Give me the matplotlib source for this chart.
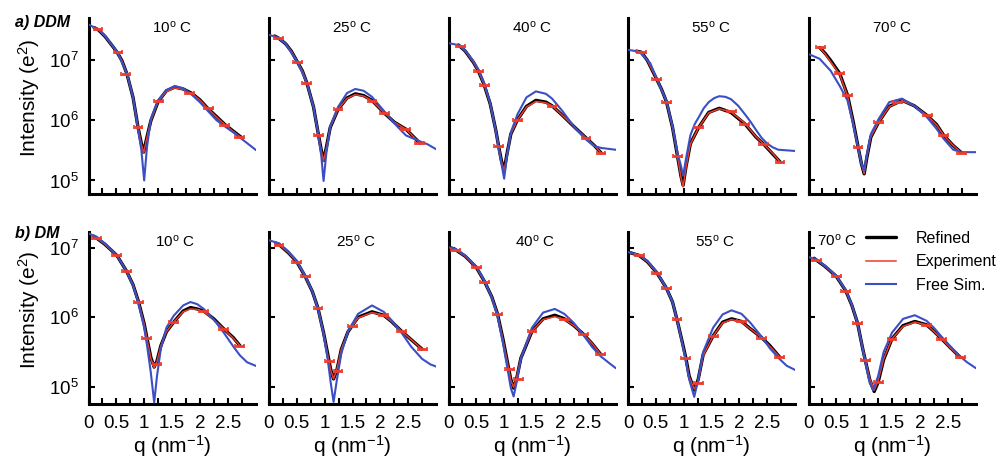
import matplotlib
matplotlib.use('Agg')
import matplotlib.pyplot as plt
from matplotlib.ticker import FixedLocator, NullLocator, FuncFormatter

plt.rcParams['font.family'] = ['Liberation Sans', 'DejaVu Sans']
plt.rcParams['mathtext.fontset'] = 'custom'
plt.rcParams['mathtext.rm'] = 'Liberation Sans'
plt.rcParams['mathtext.it'] = 'Liberation Sans:italic'
plt.rcParams['mathtext.bf'] = 'Liberation Sans:bold'

# ---------------- DATA (intensity in e^2, q in nm^-1) ----------------
temperatures = ["10", "25", "40", "55", "70"]
row_labels = ["a) DDM", "b) DM"]
legend_labels = ["Refined", "Experiment", "Free Sim."]

# ---- a) DDM ----
ddm10_q_fit = [0.1, 0.18, 0.3, 0.45, 0.52, 0.6, 0.69, 0.8, 0.89, 0.95, 0.99, 1.05, 1.12, 1.25, 1.4, 1.55, 1.7, 1.85, 2.0, 2.15, 2.3, 2.45, 2.6, 2.74]
ddm10_refined = [3.47e7, 3.16e7, 2.45e7, 1.62e7, 1.32e7, 9.8e6, 5.9e6, 2.4e6, 7.6e5, 4.1e5, 2.95e5, 5.25e5, 9.8e5, 2.04e6, 3.09e6, 3.55e6, 3.31e6, 2.82e6, 2.19e6, 1.55e6, 1.15e6, 8.5e5, 6.6e5, 5.25e5]
ddm10_expt = [3.47e7, 3.16e7, 2.45e7, 1.62e7, 1.32e7, 9.8e6, 5.9e6, 2.4e6, 7.6e5, 4.0e5, 2.85e5, 5.2e5, 9.8e5, 2.04e6, 3.0e6, 3.45e6, 3.25e6, 2.8e6, 2.17e6, 1.55e6, 1.13e6, 8.5e5, 6.5e5, 5.2e5]
ddm10_q_sim = [0.0, 0.18, 0.3, 0.52, 0.69, 0.8, 0.89, 0.95, 1.0, 1.05, 1.12, 1.25, 1.4, 1.55, 1.7, 1.85, 2.0, 2.15, 2.3, 2.45, 2.6, 2.74, 3.0]
ddm10_sim = [3.89e7, 3.24e7, 2.51e7, 1.35e7, 6.0e6, 2.4e6, 7.1e5, 3.16e5, 1.0e5, 3.55e5, 1.05e6, 2.14e6, 3.16e6, 3.72e6, 3.39e6, 2.69e6, 2.0e6, 1.41e6, 1.0e6, 7.9e5, 6.3e5, 5.0e5, 3.24e5]
ddm10_q_err = [0.17, 0.53, 0.67, 0.89, 1.25, 1.82, 2.15, 2.45, 2.72]
ddm10_err = [3.24e7, 1.38e7, 5.9e6, 7.8e5, 2.09e6, 2.88e6, 1.62e6, 8.5e5, 5.25e5]

ddm25_q_fit = [0.1, 0.17, 0.3, 0.4, 0.51, 0.6, 0.68, 0.8, 0.89, 0.94, 0.98, 1.03, 1.1, 1.24, 1.4, 1.55, 1.7, 1.85, 2.07, 2.25, 2.46, 2.71]
ddm25_refined = [2.51e7, 2.32e7, 1.86e7, 1.41e7, 9.3e6, 6.6e6, 4.17e6, 1.66e6, 5.6e5, 3.16e5, 2.14e5, 3.55e5, 7.6e5, 1.51e6, 2.34e6, 2.75e6, 2.57e6, 2.14e6, 1.32e6, 9.3e5, 7.1e5, 4.17e5]
ddm25_expt = [2.51e7, 2.32e7, 1.86e7, 1.41e7, 9.3e6, 6.6e6, 4.17e6, 1.66e6, 5.6e5, 3.1e5, 2.1e5, 3.5e5, 7.6e5, 1.51e6, 2.3e6, 2.66e6, 2.52e6, 2.12e6, 1.32e6, 9.3e5, 7.1e5, 4.17e5]
ddm25_q_sim = [0.0, 0.17, 0.3, 0.51, 0.68, 0.8, 0.89, 0.94, 0.98, 1.03, 1.1, 1.24, 1.4, 1.55, 1.7, 1.85, 2.07, 2.25, 2.46, 2.71, 2.85, 3.0]
ddm25_sim = [2.63e7, 2.34e7, 1.86e7, 9.3e6, 4.17e6, 1.66e6, 5.5e5, 2.51e5, 9.8e4, 2.82e5, 7.9e5, 1.66e6, 2.82e6, 3.31e6, 3.09e6, 2.45e6, 1.41e6, 8.9e5, 5.6e5, 4.47e5, 3.98e5, 3.31e5]
ddm25_q_err = [0.17, 0.51, 0.68, 0.89, 1.24, 1.85, 2.07, 2.46, 2.71]
ddm25_err = [2.32e7, 9.3e6, 4.17e6, 5.6e5, 1.51e6, 2.12e6, 1.32e6, 7.1e5, 4.17e5]

ddm40_q_fit = [0.18, 0.3, 0.45, 0.54, 0.64, 0.75, 0.85, 0.9, 0.95, 1.0, 1.05, 1.12, 1.24, 1.4, 1.57, 1.75, 1.86, 2.05, 2.25, 2.47, 2.62, 2.74]
ddm40_refined = [1.78e7, 1.41e7, 9.1e6, 6.5e6, 3.89e6, 1.86e6, 6.8e5, 3.72e5, 2.14e5, 1.48e5, 2.75e5, 5.9e5, 1.02e6, 1.7e6, 2.14e6, 2.0e6, 1.74e6, 1.2e6, 7.9e5, 5.1e5, 3.8e5, 2.88e5]
ddm40_expt = [1.78e7, 1.41e7, 9.1e6, 6.5e6, 3.89e6, 1.86e6, 6.8e5, 3.72e5, 2.1e5, 1.45e5, 2.7e5, 5.9e5, 1.02e6, 1.66e6, 2.06e6, 1.95e6, 1.74e6, 1.2e6, 7.9e5, 5.1e5, 3.8e5, 2.88e5]
ddm40_q_sim = [0.0, 0.18, 0.3, 0.45, 0.54, 0.64, 0.75, 0.85, 0.9, 0.95, 1.0, 1.05, 1.12, 1.24, 1.4, 1.57, 1.75, 1.86, 2.05, 2.25, 2.47, 2.62, 2.74, 3.0]
ddm40_sim = [1.91e7, 1.78e7, 1.45e7, 9.5e6, 6.9e6, 4.17e6, 1.91e6, 6.6e5, 3.55e5, 1.91e5, 1.07e5, 2.51e5, 6.3e5, 1.26e6, 2.4e6, 3.02e6, 2.75e6, 2.29e6, 1.41e6, 7.9e5, 4.79e5, 3.72e5, 3.47e5, 3.24e5]
ddm40_q_err = [0.21, 0.54, 0.64, 0.90, 1.24, 1.86, 2.47, 2.74]
ddm40_err = [1.74e7, 6.5e6, 3.89e6, 3.72e5, 1.02e6, 1.74e6, 5.1e5, 2.88e5]

ddm55_q_fit = [0.15, 0.24, 0.35, 0.51, 0.6, 0.69, 0.8, 0.89, 0.95, 0.99, 1.04, 1.12, 1.27, 1.45, 1.64, 1.85, 2.1, 2.3, 2.43, 2.6, 2.73]
ddm55_refined = [1.41e7, 1.35e7, 9.8e6, 4.9e6, 3.31e6, 2.04e6, 7.6e5, 2.51e5, 1.2e5, 8.3e4, 1.66e5, 4.07e5, 7.6e5, 1.35e6, 1.58e6, 1.35e6, 8.7e5, 5.25e5, 4.07e5, 2.75e5, 2.04e5]
ddm55_expt = [1.41e7, 1.35e7, 9.8e6, 4.9e6, 3.31e6, 2.04e6, 7.6e5, 2.51e5, 1.15e5, 7.8e4, 1.6e5, 4.0e5, 7.6e5, 1.33e6, 1.55e6, 1.38e6, 8.9e5, 5.3e5, 4.07e5, 2.8e5, 2.04e5]
ddm55_q_sim = [0.0, 0.2, 0.4, 0.51, 0.69, 0.8, 0.89, 0.95, 0.99, 1.04, 1.12, 1.2, 1.27, 1.36, 1.45, 1.55, 1.64, 1.75, 1.85, 1.98, 2.1, 2.2, 2.3, 2.4, 2.5, 2.6, 2.7, 3.0]
ddm55_sim = [1.48e7, 1.38e7, 8.9e6, 5.0e6, 2.09e6, 7.9e5, 2.82e5, 1.78e5, 1.2e5, 2.24e5, 5.6e5, 8.7e5, 1.12e6, 1.58e6, 2.0e6, 2.34e6, 2.51e6, 2.45e6, 2.24e6, 1.74e6, 1.26e6, 9.5e5, 6.9e5, 5.1e5, 4.1e5, 3.55e5, 3.24e5, 3.09e5]
ddm55_q_err = [0.24, 0.51, 0.69, 0.89, 1.27, 1.86, 2.10, 2.43, 2.73]
ddm55_err = [1.35e7, 4.9e6, 2.04e6, 2.51e5, 7.6e5, 1.45e6, 8.7e5, 4.07e5, 2.04e5]

ddm70_q_fit = [0.2, 0.3, 0.4, 0.56, 0.7, 0.8, 0.89, 0.95, 1.0, 1.05, 1.12, 1.26, 1.45, 1.68, 1.9, 2.13, 2.3, 2.43, 2.6, 2.75]
ddm70_refined = [1.62e7, 1.29e7, 9.8e6, 6.0e6, 2.63e6, 9.8e5, 3.63e5, 1.91e5, 1.29e5, 2.45e5, 5.25e5, 9.3e5, 1.7e6, 2.14e6, 1.74e6, 1.2e6, 8.5e5, 5.6e5, 3.8e5, 2.88e5]
ddm70_expt = [1.62e7, 1.26e7, 9.3e6, 5.8e6, 2.55e6, 9.5e5, 3.55e5, 1.9e5, 1.3e5, 2.5e5, 5.3e5, 9.3e5, 1.68e6, 2.1e6, 1.74e6, 1.2e6, 8.4e5, 5.6e5, 3.8e5, 2.88e5]
ddm70_q_sim = [0.0, 0.2, 0.4, 0.56, 0.7, 0.8, 0.89, 0.95, 1.0, 1.05, 1.12, 1.26, 1.45, 1.68, 1.9, 2.13, 2.3, 2.43, 2.6, 2.75, 3.0]
ddm70_sim = [1.26e7, 1.05e7, 6.6e6, 3.72e6, 2.14e6, 8.7e5, 3.55e5, 1.91e5, 1.48e5, 2.75e5, 5.9e5, 1.05e6, 2.0e6, 2.29e6, 1.74e6, 1.12e6, 7.2e5, 4.9e5, 3.24e5, 2.95e5, 2.95e5]
ddm70_q_err = [0.22, 0.56, 0.70, 0.89, 1.26, 1.60, 2.13, 2.43, 2.75]
ddm70_err = [1.62e7, 6.0e6, 2.63e6, 3.63e5, 9.3e5, 2.0e6, 1.2e6, 5.6e5, 2.88e5]

# ---- b) DM ----
dm10_q_fit = [0.09, 0.15, 0.3, 0.51, 0.68, 0.8, 0.9, 1.0, 1.05, 1.12, 1.18, 1.23, 1.3, 1.4, 1.53, 1.7, 1.83, 1.95, 2.07, 2.25, 2.43, 2.6, 2.72]
dm10_refined = [1.48e7, 1.38e7, 1.12e7, 7.8e6, 4.68e6, 2.95e6, 1.66e6, 8.1e5, 5.0e5, 2.63e5, 1.91e5, 2.34e5, 3.89e5, 6.2e5, 8.5e5, 1.23e6, 1.38e6, 1.32e6, 1.23e6, 9.5e5, 6.8e5, 5.1e5, 3.89e5]
dm10_expt = [1.48e7, 1.38e7, 1.12e7, 7.8e6, 4.68e6, 2.95e6, 1.66e6, 8.0e5, 4.9e5, 2.55e5, 1.85e5, 2.3e5, 3.89e5, 6.2e5, 8.5e5, 1.2e6, 1.32e6, 1.3e6, 1.2e6, 9.3e5, 6.8e5, 5.0e5, 3.89e5]
dm10_q_sim = [0.0, 0.15, 0.3, 0.51, 0.68, 0.8, 0.9, 1.0, 1.05, 1.12, 1.18, 1.23, 1.3, 1.4, 1.53, 1.7, 1.83, 1.95, 2.07, 2.25, 2.43, 2.6, 2.72, 2.85, 3.0]
dm10_sim = [1.62e7, 1.45e7, 1.15e7, 7.8e6, 4.68e6, 2.88e6, 1.58e6, 7.1e5, 4.0e5, 1.58e5, 5.9e4, 1.41e5, 3.55e5, 7.1e5, 1.05e6, 1.48e6, 1.66e6, 1.55e6, 1.32e6, 9.3e5, 6.0e5, 3.8e5, 2.82e5, 2.24e5, 2.0e5]
dm10_q_err = [0.15, 0.51, 0.68, 0.90, 1.05, 1.23, 1.53, 2.07, 2.43, 2.72]
dm10_err = [1.38e7, 7.8e6, 4.68e6, 1.66e6, 5.0e5, 2.14e5, 8.5e5, 1.23e6, 6.8e5, 3.89e5]

dm25_q_fit = [0.12, 0.18, 0.35, 0.5, 0.65, 0.78, 0.88, 0.98, 1.05, 1.11, 1.16, 1.22, 1.3, 1.42, 1.6, 1.85, 2.06, 2.2, 2.38, 2.55, 2.75]
dm25_refined = [1.17e7, 1.12e7, 8.5e6, 6.3e6, 3.89e6, 2.34e6, 1.35e6, 6.0e5, 3.09e5, 1.74e5, 1.29e5, 1.74e5, 3.47e5, 6.2e5, 1.0e6, 1.2e6, 1.07e6, 8.7e5, 6.3e5, 4.79e5, 3.47e5]
dm25_expt = [1.17e7, 1.12e7, 8.5e6, 6.3e6, 3.89e6, 2.34e6, 1.35e6, 6.0e5, 3.0e5, 1.7e5, 1.3e5, 1.78e5, 3.47e5, 6.2e5, 9.8e5, 1.17e6, 1.07e6, 8.7e5, 6.3e5, 4.79e5, 3.47e5]
dm25_q_sim = [0.0, 0.18, 0.35, 0.5, 0.65, 0.78, 0.88, 0.98, 1.05, 1.11, 1.16, 1.22, 1.3, 1.42, 1.6, 1.85, 2.06, 2.2, 2.38, 2.55, 2.75, 2.9, 3.0]
dm25_sim = [1.29e7, 1.17e7, 8.9e6, 6.5e6, 3.98e6, 2.34e6, 1.32e6, 5.75e5, 2.63e5, 1.12e5, 6.0e4, 1.26e5, 3.02e5, 6.3e5, 1.12e6, 1.48e6, 1.2e6, 9.1e5, 6.0e5, 3.8e5, 2.51e5, 2.09e5, 1.95e5]
dm25_q_err = [0.18, 0.50, 0.65, 0.88, 1.09, 1.24, 1.50, 2.06, 2.38, 2.75]
dm25_err = [1.12e7, 6.3e6, 3.89e6, 1.35e6, 2.34e5, 1.7e5, 7.6e5, 1.07e6, 6.3e5, 3.47e5]

dm40_q_fit = [0.05, 0.12, 0.3, 0.5, 0.65, 0.78, 0.88, 0.98, 1.05, 1.12, 1.17, 1.22, 1.3, 1.5, 1.7, 1.91, 2.08, 2.25, 2.42, 2.58, 2.73]
dm40_refined = [1.0e7, 9.5e6, 7.6e6, 5.25e6, 3.24e6, 1.95e6, 1.12e6, 4.79e5, 2.45e5, 1.26e5, 9.5e4, 1.26e5, 2.57e5, 6.3e5, 9.5e5, 1.07e6, 9.5e5, 7.6e5, 5.75e5, 4.17e5, 2.95e5]
dm40_expt = [1.0e7, 9.5e6, 7.6e6, 5.25e6, 3.24e6, 1.95e6, 1.12e6, 4.7e5, 2.4e5, 1.22e5, 9.8e4, 1.32e5, 2.6e5, 6.3e5, 9.3e5, 1.02e6, 9.3e5, 7.6e5, 5.75e5, 4.2e5, 2.95e5]
dm40_q_sim = [0.0, 0.12, 0.3, 0.5, 0.65, 0.78, 0.88, 0.98, 1.05, 1.12, 1.17, 1.22, 1.3, 1.5, 1.7, 1.91, 2.08, 2.25, 2.42, 2.58, 2.73, 2.9, 3.0]
dm40_sim = [1.02e7, 9.8e6, 7.8e6, 5.4e6, 3.31e6, 1.91e6, 1.05e6, 4.17e5, 2.0e5, 9.5e4, 7.2e4, 1.12e5, 2.51e5, 7.1e5, 1.17e6, 1.32e6, 1.12e6, 8.3e5, 5.6e5, 3.72e5, 2.75e5, 2.14e5, 1.86e5]
dm40_q_err = [0.12, 0.50, 0.65, 0.88, 1.09, 1.25, 1.50, 2.08, 2.42, 2.73]
dm40_err = [9.5e6, 5.25e6, 3.24e6, 1.12e6, 1.78e5, 1.29e5, 6.3e5, 9.5e5, 5.75e5, 2.95e5]

dm55_q_fit = [0.05, 0.2, 0.35, 0.52, 0.69, 0.8, 0.88, 0.97, 1.04, 1.1, 1.19, 1.26, 1.35, 1.53, 1.7, 1.86, 2.04, 2.2, 2.4, 2.55, 2.72]
dm55_refined = [8.5e6, 7.8e6, 6.3e6, 4.37e6, 2.63e6, 1.66e6, 9.3e5, 4.57e5, 2.57e5, 1.41e5, 8.9e4, 1.26e5, 2.88e5, 5.4e5, 8.5e5, 9.5e5, 8.7e5, 6.8e5, 5.1e5, 3.89e5, 2.69e5]
dm55_expt = [8.5e6, 7.8e6, 6.3e6, 4.37e6, 2.63e6, 1.66e6, 9.3e5, 4.5e5, 2.5e5, 1.38e5, 9.2e4, 1.2e5, 2.8e5, 5.4e5, 8.3e5, 9.3e5, 8.5e5, 6.8e5, 5.1e5, 3.8e5, 2.69e5]
dm55_q_sim = [0.0, 0.2, 0.35, 0.52, 0.69, 0.8, 0.88, 0.97, 1.04, 1.1, 1.19, 1.26, 1.35, 1.53, 1.7, 1.86, 2.04, 2.2, 2.4, 2.55, 2.72, 2.85, 3.0]
dm55_sim = [8.7e6, 7.9e6, 6.5e6, 4.47e6, 2.63e6, 1.66e6, 9.3e5, 4.37e5, 2.34e5, 1.26e5, 7.1e4, 1.26e5, 3.16e5, 7.1e5, 1.1e6, 1.26e6, 1.12e6, 8.3e5, 5.25e5, 3.55e5, 2.51e5, 2.0e5, 1.74e5]
dm55_q_err = [0.20, 0.52, 0.69, 0.88, 1.04, 1.26, 1.53, 2.04, 2.40, 2.72]
dm55_err = [7.8e6, 4.37e6, 2.63e6, 9.3e5, 2.57e5, 1.12e5, 5.4e5, 8.7e5, 5.1e5, 2.69e5]

dm70_q_fit = [0.1, 0.15, 0.3, 0.5, 0.67, 0.78, 0.88, 0.97, 1.02, 1.1, 1.18, 1.25, 1.35, 1.5, 1.7, 1.91, 2.12, 2.25, 2.39, 2.55, 2.73]
dm70_refined = [7.1e6, 6.6e6, 5.4e6, 3.89e6, 2.4e6, 1.48e6, 8.3e5, 3.63e5, 2.4e5, 1.26e5, 8.5e4, 1.15e5, 2.45e5, 4.9e5, 7.6e5, 8.7e5, 7.8e5, 6.3e5, 4.9e5, 3.63e5, 2.63e5]
dm70_expt = [7.1e6, 6.6e6, 5.4e6, 3.89e6, 2.4e6, 1.48e6, 8.3e5, 3.7e5, 2.45e5, 1.3e5, 8.9e4, 1.2e5, 2.5e5, 4.9e5, 7.4e5, 8.5e5, 7.8e5, 6.3e5, 4.9e5, 3.6e5, 2.63e5]
dm70_q_sim = [0.0, 0.15, 0.3, 0.5, 0.67, 0.78, 0.88, 0.97, 1.02, 1.1, 1.16, 1.25, 1.35, 1.5, 1.7, 1.91, 2.12, 2.25, 2.39, 2.55, 2.73, 2.85, 3.0]
dm70_sim = [7.4e6, 6.8e6, 5.5e6, 3.98e6, 2.45e6, 1.51e6, 8.3e5, 3.55e5, 2.24e5, 1.12e5, 8.9e4, 1.41e5, 3.16e5, 6.0e5, 9.5e5, 1.07e6, 8.9e5, 7.1e5, 5.25e5, 3.8e5, 2.69e5, 2.24e5, 1.86e5]
dm70_q_err = [0.15, 0.50, 0.67, 0.88, 1.02, 1.25, 1.50, 2.12, 2.39, 2.73]
dm70_err = [6.6e6, 3.89e6, 2.4e6, 8.3e5, 2.4e5, 1.15e5, 4.9e5, 7.8e5, 4.9e5, 2.63e5]

ddm_panels = [
    (ddm10_q_fit, ddm10_refined, ddm10_expt, ddm10_q_sim, ddm10_sim, ddm10_q_err, ddm10_err),
    (ddm25_q_fit, ddm25_refined, ddm25_expt, ddm25_q_sim, ddm25_sim, ddm25_q_err, ddm25_err),
    (ddm40_q_fit, ddm40_refined, ddm40_expt, ddm40_q_sim, ddm40_sim, ddm40_q_err, ddm40_err),
    (ddm55_q_fit, ddm55_refined, ddm55_expt, ddm55_q_sim, ddm55_sim, ddm55_q_err, ddm55_err),
    (ddm70_q_fit, ddm70_refined, ddm70_expt, ddm70_q_sim, ddm70_sim, ddm70_q_err, ddm70_err),
]
dm_panels = [
    (dm10_q_fit, dm10_refined, dm10_expt, dm10_q_sim, dm10_sim, dm10_q_err, dm10_err),
    (dm25_q_fit, dm25_refined, dm25_expt, dm25_q_sim, dm25_sim, dm25_q_err, dm25_err),
    (dm40_q_fit, dm40_refined, dm40_expt, dm40_q_sim, dm40_sim, dm40_q_err, dm40_err),
    (dm55_q_fit, dm55_refined, dm55_expt, dm55_q_sim, dm55_sim, dm55_q_err, dm55_err),
    (dm70_q_fit, dm70_refined, dm70_expt, dm70_q_sim, dm70_sim, dm70_q_err, dm70_err),
]

# ---------------- STYLE / LAYOUT ----------------
W, H = 998, 466
BLACK = '#000000'
RED = '#ee3b2b'
BLUE = '#3b4fc4'
col_left_px = [88.5, 269, 448.5, 628, 808.5]
ax_w_px = 167
rows = [
    dict(top=18, bottom=193.5, ylim=(6.07e4, 5.0e7), panels=ddm_panels, label_y=27, ylab_y=98),
    dict(top=232, bottom=403.5, ylim=(5.7e4, 1.7e7), panels=dm_panels, label_y=238, ylab_y=310),
]

fig = plt.figure(figsize=(W / 100, H / 100), dpi=100)
xfmt = FuncFormatter(lambda v, p: f'{v:g}')

for r, row in enumerate(rows):
    for c in range(5):
        q_fit, refined, expt, q_sim, sim, q_err, err = row['panels'][c]
        ax = fig.add_axes([col_left_px[c] / W, 1 - row['bottom'] / H,
                           ax_w_px / W, (row['bottom'] - row['top']) / H])
        h1, = ax.plot(q_fit, refined, color=BLACK, lw=2.4, zorder=2, solid_capstyle='round')
        h2, = ax.plot(q_fit, expt, color=RED, lw=1.1, zorder=3)
        ax.errorbar(q_err, err, xerr=0.08, fmt='none', ecolor=RED, elinewidth=2.0,
                    capsize=1.6, capthick=1.2, zorder=4)
        h3, = ax.plot(q_sim, sim, color=BLUE, lw=1.5, zorder=3.5)

        ax.set_yscale('log')
        ax.set_xlim(0, 3.0)
        ax.set_ylim(*row['ylim'])
        for s in ['top', 'right']:
            ax.spines[s].set_visible(False)
        for s in ['left', 'bottom']:
            ax.spines[s].set_linewidth(2.2)
        ax.yaxis.set_major_locator(FixedLocator([1e5, 1e6, 1e7]))
        ax.yaxis.set_minor_locator(NullLocator())
        ax.xaxis.set_major_locator(FixedLocator([0, 0.5, 1, 1.5, 2, 2.5]))
        ax.xaxis.set_minor_locator(FixedLocator([0.25, 0.75, 1.25, 1.75, 2.25, 2.75]))
        ax.xaxis.set_major_formatter(xfmt)
        ax.tick_params(which='both', direction='in', length=4, width=1.5)
        ax.tick_params(axis='y', labelsize=13.5, pad=7)
        ax.tick_params(axis='x', labelsize=13.5, pad=8)
        if r == 0:
            ax.tick_params(labelbottom=False)
        else:
            ax.set_xlabel(r'q (nm$^{-1}$)', fontsize=15, labelpad=1)
        if c > 0:
            ax.tick_params(labelleft=False)
        ax.patch.set_alpha(0)

        title = temperatures[c] + r'$^{\rm o}$ C'
        if r == 1 and c == 4:
            ax.text(0.05, 0.92, title, transform=ax.transAxes, fontsize=11,
                    ha='left', va='baseline')
            ax.legend([h1, h2, h3], legend_labels, loc='upper left',
                      bbox_to_anchor=(866 / W, 1 - 231 / H), bbox_transform=fig.transFigure,
                      frameon=False, fontsize=11.5, handlelength=1.85, handletextpad=1.25,
                      labelspacing=0.52, borderpad=0, borderaxespad=0)
        else:
            ax.text(0.5 if r == 0 else 0.52, 0.915, title, transform=ax.transAxes,
                    fontsize=11, ha='center', va='baseline')

    fig.text(15 / W, 1 - row['label_y'] / H, row_labels[r], fontsize=11.5,
             fontweight='bold', fontstyle='italic', ha='left', va='baseline')
    fig.text(29 / W, 1 - row['ylab_y'] / H, r'Intensity (e$^2$)', rotation=90,
             fontsize=15, ha='center', va='center')

fig.savefig('out.png', dpi=100)
